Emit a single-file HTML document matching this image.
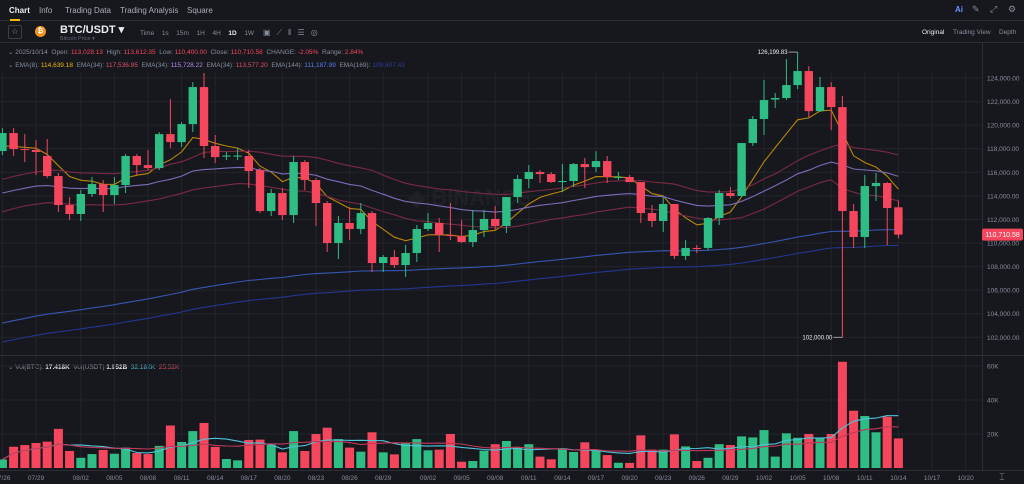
<!DOCTYPE html>
<html><head><meta charset="utf-8">
<style>
*{margin:0;padding:0;box-sizing:border-box}
body{width:1024px;height:484px;overflow:hidden;background:#17181d;font-family:"Liberation Sans",sans-serif;color:#848e9c;position:relative}
.a{position:absolute;white-space:nowrap}
.tab{font-size:8px;top:6px;color:#a9aeb8}
.t7{font-size:6.5px}
</style></head><body>
<div class="a" style="left:0;top:0;width:1024px;height:21px;border-bottom:1px solid #2b2e35"></div>
<div class="a tab" style="left:9px;color:#eaecef;font-weight:bold">Chart</div>
<div class="a" style="left:10px;top:19px;width:10px;height:2px;background:#f0b90b"></div>
<div class="a tab" style="left:39px">Info</div>
<div class="a tab" style="left:65px">Trading Data</div>
<div class="a tab" style="left:120px">Trading Analysis</div>
<div class="a tab" style="left:187px">Square</div>
<div class="a" style="left:955px;top:5px;font-size:8px;color:#6c8cff;font-weight:bold">Ai</div>
<div class="a" style="left:972px;top:4px;font-size:9px;color:#848e9c">✎</div>
<div class="a" style="left:990px;top:4px;font-size:9px;color:#848e9c">⤢</div>
<div class="a" style="left:1008px;top:4px;font-size:9px;color:#848e9c">⚙</div>

<div class="a" style="left:8px;top:25px;width:14px;height:14px;border:1px solid #3a3d44;border-radius:2px;font-size:8px;text-align:center;line-height:12px;color:#848e9c">☆</div>
<div class="a" style="left:35px;top:26px;width:11px;height:11px;border-radius:50%;background:#f7931a;color:#fff;font-size:7px;text-align:center;line-height:11px;font-weight:bold">₿</div>
<div class="a" style="left:60px;top:23px;font-size:11px;font-weight:bold;color:#eaecef">BTC/USDT ▾</div>
<div class="a" style="left:60px;top:36px;font-size:5.5px;color:#5e6673">Bitcoin Price ▾</div>
<div class="a t7" style="left:140px;top:29px;color:#848e9c;word-spacing:2px">Time &nbsp;1s &nbsp;15m &nbsp;1H &nbsp;4H &nbsp;<b style="color:#eaecef">1D</b> &nbsp;1W &nbsp;&nbsp;▾</div>
<div class="a t7" style="left:263px;top:28px;font-size:8px;letter-spacing:6px;color:#848e9c">▣⟋⫴☰◎</div>
<div class="a t7" style="left:922px;top:29px;color:#eaecef">Original</div>
<div class="a t7" style="left:953px;top:29px">Trading View</div>
<div class="a t7" style="left:999px;top:29px">Depth</div>
<div class="a" style="left:0;top:42px;width:1024px;height:1px;background:#2b2e35"></div>

<div class="a t7" style="left:8px;top:48px">⌄ 2025/10/14 &nbsp;Open: <span style="color:#f6465d">113,028.13</span> &nbsp;High: <span style="color:#f6465d">113,612.35</span> &nbsp;Low: <span style="color:#f6465d">110,400.00</span> &nbsp;Close: <span style="color:#f6465d">110,710.58</span> &nbsp;CHANGE: <span style="color:#f6465d">-2.05%</span> &nbsp;Range: <span style="color:#f6465d">2.84%</span></div>
<div class="a t7" style="left:8px;top:61px">⌄ EMA(8): <span style="color:#f0b90b">114,639.18</span> &nbsp;EMA(34): <span style="color:#e0506a">117,536.95</span> &nbsp;EMA(34): <span style="color:#b58cf0">115,728.22</span> &nbsp;EMA(34): <span style="color:#e0506a">113,577.20</span> &nbsp;EMA(144): <span style="color:#5b7cf0">111,187.99</span> &nbsp;EMA(169): <span style="color:#2c3f9a">109,807.43</span></div>
<div class="a t7" style="left:8px;top:363px">⌄ Vol(BTC): <b style="color:#eaecef">17.418K</b> &nbsp;Vol(USDT) <b style="color:#eaecef">1.952B</b> &nbsp;<span style="color:#4fc3d9">32.182K</span> &nbsp;<span style="color:#e0506a">25.52K</span></div>

<svg id="chart" class="a" style="left:0;top:0" width="1024" height="484" xmlns="http://www.w3.org/2000/svg"></svg>

<script>
const opens=[117800,119330,117970,117890,117380,115680,113220,112460,114160,115000,114070,114920,117380,116610,116360,119240,118560,120090,123230,118230,117330,117330,117380,116190,112710,114240,112370,116870,115340,113390,110000,111700,111190,112540,108300,108810,108130,109150,111190,111700,110680,110590,110080,111100,112040,111440,113900,115430,116020,115850,115170,115260,116700,116440,116950,115550,115600,115170,112540,111870,113310,108900,109580,109580,112120,114240,113990,118480,120520,122170,122300,123400,124590,121190,123230,121530,112710,110510,114830,115090,113028];
const closes=[119330,117970,117890,117720,115680,113220,112460,114160,115000,114070,114920,117380,116610,116360,119240,118560,120090,123230,118230,117290,117420,117420,116110,112710,114240,112370,116870,115340,113390,110000,111700,111190,112540,108300,108810,108130,109150,111190,111700,110680,110590,110080,111100,112040,111440,113900,115430,116020,115850,115170,115260,116700,116440,116950,115600,115600,115170,112540,111870,113310,108900,109580,109490,112120,114240,113990,118480,120520,122130,122300,123400,124590,121190,123230,121530,112710,110510,114830,115090,112970,110711];
const highs=[119750,119750,119240,118730,118820,115940,113900,114490,115600,115340,115600,117550,117550,117890,119410,122210,120260,123650,124420,119160,117720,118060,117890,116360,114580,114660,117380,117040,115510,113560,112290,113050,113390,112710,108980,109410,109830,111530,112540,112120,113390,111950,112800,112800,113140,113900,115770,116610,116190,116020,116700,116780,117210,117800,117380,116020,115770,115170,113220,113900,113310,110250,109830,112200,114490,114750,118480,120770,123820,122720,125600,126200,125010,124080,123650,122470,113310,115770,115940,115170,113612];
const lows=[117460,117380,116870,115770,115510,112630,111950,111870,113900,112630,113310,114240,115770,116190,116190,118060,118140,119410,117210,116780,117040,117040,114660,112540,112290,111950,111700,114490,111440,109240,108640,110250,110760,107540,107540,107880,107120,108390,111020,109240,110250,110000,109660,110510,111100,110850,113390,114660,115090,115100,114320,114750,114660,116020,115090,115340,115170,111700,111360,110930,108640,108560,109150,109410,111530,113820,113900,118230,119160,121450,122130,123060,120680,121110,119580,102000,109580,109580,113560,109830,110400];
const volumes=[5,12.5,13.5,14.7,15.5,23,10,6,8.2,10.6,8.4,12,8.8,8.2,13,25,15.3,21.7,26.5,12.4,5.3,4.5,16.5,16.7,13.7,9.2,21.7,10,20,23.7,17,12,9.6,21,9.2,8,14.9,17,10.4,10.8,20,3.7,4.1,10.2,14,15.9,12.2,14,6.7,5.1,11.6,9.4,15.1,10.2,7.6,3.1,3,19.2,10.8,10.8,19.8,12.7,4.1,6,14,13.5,18.6,18,22.3,6.7,20.4,17.8,20,17.8,20,62.5,33.7,30.6,21,30.2,17.4];
const priceTicks=[102000,104000,106000,108000,110000,112000,114000,116000,118000,120000,122000,124000];
const volTicks=[20,40,60];
const dateLabels=["07/26","07/29","08/02","08/05","08/08","08/11","08/14","08/17","08/20","08/23","08/26","08/29","09/02","09/05","09/08","09/11","09/14","09/17","09/20","09/23","09/26","09/29","10/02","10/05","10/08","10/11","10/14","10/17","10/20"];
const emaSeeds=[118250,115400,114240,112650,103200,101600];
const emaPeriods=[8,34,34,34,144,169];
const lastPrice=110710.58, maxHigh=126199.83, minLow=102000;

const svg=document.getElementById('chart');
const NS='http://www.w3.org/2000/svg';
const xD=i=>2.4+11.2*i;
const yP=p=>243-(p-110000)*0.011786;
const yV=v=>468-v*1.7;
const G='#2ebd85',R='#f6465d';
function mk(tag,attrs,parent){const e=document.createElementNS(NS,tag);for(const k in attrs)e.setAttribute(k,attrs[k]);(parent||svg).appendChild(e);return e;}
function dayIndex(lbl){const [m,d]=lbl.split('/').map(Number);const t=Date.UTC(2025,m-1,d);return Math.round((t-Date.UTC(2025,6,26))/86400000);}

// grid
const grid=mk('g',{});


priceTicks.forEach(p=>{const l=mk('line',{x1:0,x2:982,y1:yP(p),y2:yP(p),stroke:'#23252c','stroke-width':1},grid);

});
volTicks.forEach(v=>{const l=mk('line',{x1:0,x2:982,y1:yV(v),y2:yV(v),stroke:'#23252c','stroke-width':1},grid);

});
dateLabels.forEach(d=>{const x=xD(dayIndex(d));const l=mk('line',{x1:x,x2:x,y1:72,y2:470,stroke:'#23252c','stroke-width':1},grid);

});
const sep=mk('line',{x1:0,x2:1024,y1:355.5,y2:355.5,stroke:'#2b2e35'});


const ax=mk('line',{x1:982.5,x2:982.5,y1:43,y2:470,stroke:'#2b2e35'});


const bx=mk('line',{x1:0,x2:1024,y1:470.5,y2:470.5,stroke:'#2b2e35'});



// watermark
const wm=mk('text',{x:470,y:205,'font-size':22,'font-weight':'bold',fill:'#1f2127','text-anchor':'middle','font-family':'Liberation Sans'});
wm.textContent='◆ BINANCE';



// EMA lines
function ema(src,period,seed){const a=2/(period+1);const out=[];let e=seed;src.forEach((v,i)=>{if(i>0)e=e+a*(v-e);out.push(e);});return out;}
const emaSrc=[closes,highs,closes,lows,closes,closes];
const emaColors=['#b8860b','#7a2a44','#7c6bb8','#7a2a44','#3756b0','#233690'];
const emaNames=['ema8-line','ema34-high-line','ema34-close-line','ema34-low-line','ema144-line','ema169-line'];
emaPeriods.forEach((per,k)=>{
  const vals=ema(emaSrc[k],per,emaSeeds[k]);
  const pts=vals.map((v,i)=>xD(i).toFixed(1)+','+yP(v).toFixed(1)).join(' ');
  const pl=mk('polyline',{points:pts,fill:'none',stroke:emaColors[k],'stroke-width':1.1});
  
  
});

// candles
opens.forEach((o,i)=>{
  const c=closes[i],col=c>=o?G:R,x=xD(i);
  const g=mk('g',{});
  
  
  mk('line',{x1:x,x2:x,y1:yP(highs[i]),y2:yP(lows[i]),stroke:col,'stroke-width':1},g);
  const top=yP(Math.max(o,c)),h=Math.max(1,Math.abs(yP(o)-yP(c)));
  mk('rect',{x:x-4.2,y:top,width:8.4,height:h,fill:col},g);
  const vb=mk('rect',{x:x-4.5,y:yV(volumes[i]),width:9,height:468-yV(volumes[i]),fill:col});
  
  
});

// volume MAs
function sma(src,n){return src.map((v,i)=>{const s=src.slice(Math.max(0,i-n+1),i+1);return s.reduce((a,b)=>a+b,0)/s.length;});}
[[7,'#4fc3d9','volume-ma-short'],[14,'#c0385a','volume-ma-long']].forEach(([n,col,name])=>{
  const pts=sma(volumes,n).map((v,i)=>xD(i).toFixed(1)+','+yV(v).toFixed(1)).join(' ');
  const pl=mk('polyline',{points:pts,fill:'none',stroke:col,'stroke-width':1.1});
  
  
});

// axis labels
priceTicks.forEach(p=>{const t=mk('text',{x:987,y:yP(p)+2.5,'font-size':6.5,fill:'#848e9c','font-family':'Liberation Sans'});
t.textContent=p.toLocaleString('en-US')+'.00';

});
volTicks.forEach(v=>{const t=mk('text',{x:987,y:yV(v)+2.5,'font-size':6.5,fill:'#848e9c','font-family':'Liberation Sans'});
t.textContent=v+'K';

});
dateLabels.forEach(d=>{const t=mk('text',{x:xD(dayIndex(d)),y:480,'font-size':6.5,fill:'#848e9c','text-anchor':'middle','font-family':'Liberation Sans'});
t.textContent=d;

});

// last price tag
const ly=yP(lastPrice);
const tag=mk('g',{});


mk('rect',{x:982,y:ly-6,width:41,height:12,rx:2,fill:R},tag);
const lt=mk('text',{x:1002.5,y:ly+2.5,'font-size':7,fill:'#fff','text-anchor':'middle','font-family':'Liberation Sans'},tag);
lt.textContent=lastPrice.toLocaleString('en-US',{minimumFractionDigits:2});

// high/low annotations
const hiIdx=highs.indexOf(Math.max(...highs)),loIdx=lows.indexOf(Math.min(...lows));
const ha=mk('g',{});


const hy=yP(maxHigh);
mk('line',{x1:xD(hiIdx)-9,x2:xD(hiIdx),y1:hy,y2:hy,stroke:'#b7bdc6','stroke-width':0.8},ha);
const ht=mk('text',{x:xD(hiIdx)-10,y:hy+2,'font-size':6,fill:'#eaecef','text-anchor':'end','font-family':'Liberation Sans'},ha);
ht.textContent=maxHigh.toLocaleString('en-US',{minimumFractionDigits:2});
const la=mk('g',{});


const lyy=yP(minLow);
mk('line',{x1:xD(loIdx)-9,x2:xD(loIdx),y1:lyy,y2:lyy,stroke:'#b7bdc6','stroke-width':0.8},la);
const lt2=mk('text',{x:xD(loIdx)-10,y:lyy+2,'font-size':6,fill:'#eaecef','text-anchor':'end','font-family':'Liberation Sans'},la);
lt2.textContent=minLow.toLocaleString('en-US',{minimumFractionDigits:2});

const sc=mk('text',{x:1002,y:480,'font-size':9,fill:'#848e9c','text-anchor':'middle','font-family':'DejaVu Sans'});
sc.textContent='⌶';


</script>
</body></html>
